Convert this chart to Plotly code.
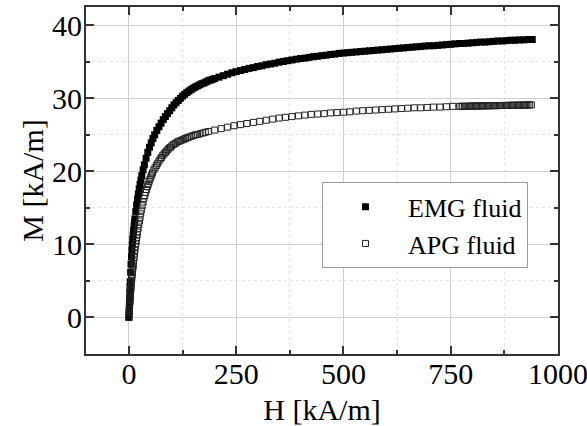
import plotly.graph_objects as go

# ---- data ----
emg_H = [0, 0.5, 1, 1.5, 2, 2.5, 3, 4, 5, 6, 7, 8, 9, 10, 11, 12, 13, 14, 16, 18,
         20, 22, 24, 26, 28, 30, 33, 36, 40, 44, 48, 52, 56, 60, 65, 70, 75, 80, 85, 90,
         95, 100, 105, 110, 115, 120, 125, 130, 135, 140, 145, 150, 155, 160, 165, 170, 175, 180, 185, 190,
         195, 200, 210, 220, 230, 240, 250, 260, 270, 280, 290, 300, 310, 320, 330, 340, 350, 360, 370, 380,
         390, 400, 410, 420, 430, 440, 450, 460, 470, 480, 490, 500, 510, 520, 530, 540, 550, 560, 570, 580,
         590, 600, 610, 620, 630, 640, 650, 660, 670, 680, 690, 700, 710, 720, 730, 740, 750, 760, 770, 780,
         790, 800, 810, 820, 830, 840, 850, 860, 870, 880, 890, 900, 910, 920, 930, 940]
emg_M = [0.0, 0.9, 1.8, 2.6, 3.4, 4.2, 4.9, 6.2, 7.3, 8.3, 9.2, 10.0, 10.7, 11.3, 11.9, 12.5, 13.0, 13.5, 14.5, 15.4,
         16.2, 16.9, 17.6, 18.2, 18.8, 19.4, 20.2, 20.9, 21.8, 22.6, 23.3, 23.9, 24.5, 25.0, 25.6, 26.1, 26.6, 27.1, 27.5, 27.9,
         28.3, 28.7, 29.1, 29.4, 29.7, 30.0, 30.3, 30.55, 30.8, 31.0, 31.2, 31.4, 31.55, 31.7, 31.85, 32.0, 32.1, 32.25, 32.4, 32.5,
         32.6, 32.7, 32.9, 33.1, 33.3, 33.5, 33.65, 33.8, 33.95, 34.1, 34.2, 34.35, 34.45, 34.6, 34.7, 34.8, 34.95, 35.05, 35.15, 35.25,
         35.35, 35.45, 35.5, 35.6, 35.7, 35.75, 35.85, 35.9, 36.0, 36.05, 36.15, 36.2, 36.25, 36.3, 36.35, 36.4, 36.45, 36.5, 36.55, 36.6,
         36.65, 36.7, 36.75, 36.8, 36.85, 36.9, 36.95, 37.0, 37.05, 37.1, 37.15, 37.2, 37.2, 37.25, 37.3, 37.35, 37.4, 37.45, 37.5, 37.5,
         37.55, 37.6, 37.65, 37.7, 37.7, 37.75, 37.8, 37.85, 37.85, 37.9, 37.95, 37.95, 38.0, 38.0, 38.05, 38.05]

apg_H = [0, 0.3, 0.6, 0.9, 1.2, 1.5, 1.8, 2.1, 2.4, 2.7, 3.0, 3.4, 3.8, 4.2, 4.6, 5.0, 5.5, 6.0, 6.5, 7,
         7.5, 8, 8.5, 9, 9.5, 10, 11, 12, 13, 14, 15, 16, 17, 18, 19, 20, 21.5, 23, 24.5, 26,
         27.5, 29, 31, 33, 35, 37, 39, 41, 43, 45, 47, 49, 51, 53, 55, 58, 61, 64, 67, 70,
         73, 76, 79, 82, 85, 88, 91, 94, 97, 100, 104, 108, 112, 116, 120, 124, 128, 132, 136, 140,
         145, 150, 155, 160, 166, 172, 178, 185, 200, 215, 230, 245, 260, 275, 290, 305, 320, 335, 350, 365,
         380, 395, 410, 425, 440, 455, 470, 485, 500, 515, 530, 545, 560, 575, 590, 605, 620, 635, 650, 665,
         680, 695, 710, 725, 740, 755, 770, 774, 778, 782, 786, 790, 794, 798, 802, 806, 810, 814, 818, 822,
         826, 830, 834, 838, 842, 846, 850, 854, 858, 862, 866, 870, 874, 878, 882, 886, 890, 894, 898, 902,
         906, 910, 914, 918, 922, 926, 930, 934, 938]
apg_M = [0.0, 0.3, 0.6, 0.9, 1.2, 1.5, 1.8, 2.0, 2.3, 2.5, 2.8, 3.1, 3.4, 3.7, 4.0, 4.3, 4.7, 5.0, 5.3, 5.6,
         5.9, 6.2, 6.5, 6.7, 7.0, 7.2, 7.7, 8.2, 8.7, 9.2, 9.7, 10.1, 10.5, 10.9, 11.3, 11.7, 12.2, 12.7, 13.2, 13.7,
         14.2, 14.7, 15.3, 15.8, 16.3, 16.7, 17.1, 17.5, 17.9, 18.2, 18.6, 18.9, 19.2, 19.5, 19.8, 20.2, 20.5, 20.8, 21.1, 21.4,
         21.7, 21.9, 22.2, 22.4, 22.6, 22.8, 23.0, 23.2, 23.3, 23.5, 23.7, 23.8, 24.0, 24.1, 24.2, 24.3, 24.4, 24.5, 24.6, 24.7,
         24.8, 24.9, 25.0, 25.05, 25.15, 25.25, 25.35, 25.45, 25.65, 25.85, 26.05, 26.25, 26.4, 26.55, 26.7, 26.85, 27.0, 27.15, 27.3, 27.4,
         27.5, 27.6, 27.7, 27.8, 27.85, 27.9, 28.0, 28.05, 28.1, 28.15, 28.25, 28.3, 28.35, 28.4, 28.45, 28.5, 28.55, 28.6, 28.65, 28.7,
         28.7, 28.75, 28.8, 28.8, 28.85, 28.9, 28.9, 28.9, 28.9, 28.9, 28.92, 28.92, 28.93, 28.93, 28.94, 28.94, 28.95, 28.95, 28.96, 28.96,
         28.97, 28.97, 28.98, 28.98, 28.99, 28.99, 29.0, 29.0, 29.0, 29.01, 29.01, 29.02, 29.02, 29.03, 29.03, 29.04, 29.04, 29.05, 29.05, 29.05,
         29.06, 29.06, 29.07, 29.07, 29.08, 29.08, 29.09, 29.09, 29.1]

x_ticks = [0, 250, 500, 750, 1000]
y_ticks = [0, 10, 20, 30, 40]
x_title = "H [kA/m]"
y_title = "M [kA/m]"
names = ["EMG fluid", "APG fluid"]

FONT = "Liberation Serif, Times New Roman, serif"
FS = 30
LFS = 26

fig = go.Figure()
fig.add_trace(go.Scatter(
    x=emg_H, y=emg_M, mode="markers", name=names[0],
    marker=dict(symbol="square", size=7, color="black", line=dict(width=0)),
))
fig.add_trace(go.Scatter(
    x=apg_H, y=apg_M, mode="markers", name=names[1],
    marker=dict(symbol="square-open", size=6, color="#222", line=dict(width=1, color="#222")),
))

axis_common = dict(
    showline=True, linecolor="#333", linewidth=2, mirror="ticks",
    ticks="inside", ticklen=8, tickwidth=1.5, tickcolor="#333",
    showgrid=True, gridcolor="#cfcfcf", gridwidth=1,
    zeroline=False, automargin=False, ticklabeloverflow="allow",
    tickfont=dict(family=FONT, size=FS, color="black"),
)

fig.update_xaxes(
    range=[-100, 1000], tickvals=x_ticks, ticklabelstandoff=-8,
    title=dict(text=x_title, font=dict(family=FONT, size=FS, color="black"), standoff=21),
    minor=dict(dtick=125, tick0=0, ticks="inside", ticklen=4, tickcolor="#333",
               showgrid=True, gridcolor="#e4e4e4", griddash="dot"),
    **axis_common,
)
fig.update_yaxes(
    range=[-5, 42.5], tickvals=y_ticks, ticklabelstandoff=-4,
    title=dict(text=y_title, font=dict(family=FONT, size=FS, color="black"), standoff=0),
    minor=dict(dtick=5, tick0=0, ticks="inside", ticklen=4, tickcolor="#333",
               showgrid=True, gridcolor="#e4e4e4", griddash="dot"),
    **axis_common,
)

fig.update_layout(
    width=587, height=426,
    margin=dict(l=86, r=29, t=7, b=72),
    paper_bgcolor="white", plot_bgcolor="white",
    font=dict(family=FONT, size=FS, color="black"),
    showlegend=True,
    legend=dict(
        x=0.5, y=0.495, xanchor="left", yanchor="top",
        bgcolor="white", bordercolor="#999", borderwidth=1,
        font=dict(family=FONT, size=LFS, color="black"),
        itemwidth=75, entrywidth=140,
    ),
)

fig.write_html(
    "out.html",
    config={"displayModeBar": False},
    post_script="document.body.style.margin='0';document.body.style.padding='0';",
)
